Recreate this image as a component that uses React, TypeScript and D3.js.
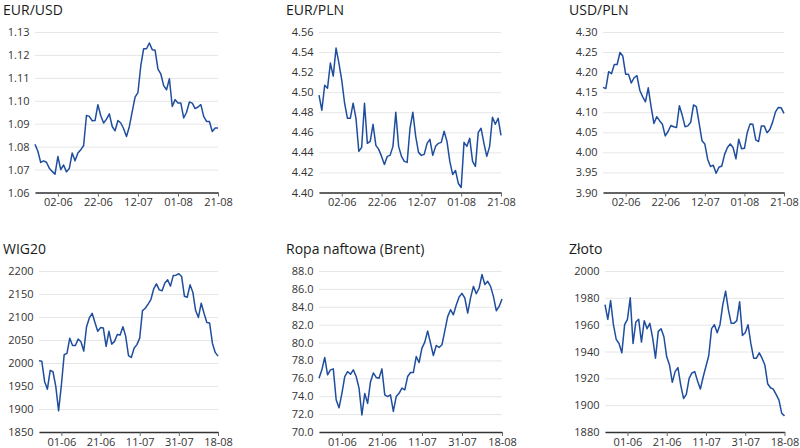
import React, { useRef, useEffect } from 'react'
import * as d3 from 'd3'

// business days shown in the upper and lower rows
const topStart = '2023-05-23'
const topEnd = '2023-08-21'
const bottomStart = '2023-05-22'
const bottomEnd = '2023-08-18'

const topTickLabels = ['02-06', '22-06', '12-07', '01-08', '21-08']
const bottomTickLabels = ['01-06', '21-06', '11-07', '31-07', '18-08']

const eurUsd = [1.081, 1.078, 1.0731, 1.0738, 1.0732, 1.0706, 1.0692, 1.068, 1.0757, 1.07,
  1.072, 1.069, 1.0705, 1.0772, 1.0738, 1.0772, 1.0786, 1.0805, 1.0936, 1.0932,
  1.0913, 1.0914, 1.0983, 1.0935, 1.0903, 1.092, 1.0943, 1.0888, 1.0869, 1.0914,
  1.0903, 1.0878, 1.0844, 1.0888, 1.0953, 1.1016, 1.1036, 1.1153, 1.1227, 1.1227,
  1.1252, 1.1223, 1.122, 1.1138, 1.1117, 1.1066, 1.1048, 1.1096, 1.0975, 1.1005,
  1.099, 1.099, 1.0925, 1.095, 1.0995, 1.099, 1.0966, 1.0973, 1.0983, 1.0932,
  1.091, 1.091, 1.0866, 1.0881, 1.0881]

const eurPln = [4.497, 4.482, 4.507, 4.504, 4.529, 4.516, 4.544, 4.529, 4.512, 4.489,
  4.474, 4.474, 4.489, 4.474, 4.441, 4.445, 4.489, 4.449, 4.451, 4.468,
  4.447, 4.443, 4.436, 4.428, 4.436, 4.437, 4.446, 4.48, 4.446, 4.436,
  4.431, 4.43, 4.464, 4.48, 4.456, 4.44, 4.437, 4.438, 4.449, 4.453,
  4.437, 4.446, 4.449, 4.45, 4.461, 4.451, 4.431, 4.418, 4.422, 4.409,
  4.405, 4.45, 4.446, 4.454, 4.431, 4.426, 4.46, 4.464, 4.449, 4.436,
  4.446, 4.475, 4.468, 4.474, 4.457]

const usdPln = [4.162, 4.159, 4.201, 4.196, 4.219, 4.219, 4.249, 4.24, 4.195, 4.195,
  4.173, 4.186, 4.191, 4.155, 4.139, 4.126, 4.161, 4.114, 4.072, 4.089,
  4.079, 4.07, 4.041, 4.052, 4.067, 4.064, 4.062, 4.116, 4.093, 4.064,
  4.066, 4.075, 4.118, 4.114, 4.072, 4.029, 4.021, 3.983, 3.965, 3.968,
  3.948, 3.963, 3.966, 3.995, 4.012, 4.021, 4.012, 3.984, 4.033, 4.009,
  4.01, 4.049, 4.071, 4.07, 4.031, 4.027, 4.066, 4.066, 4.049, 4.057,
  4.076, 4.101, 4.112, 4.111, 4.097]

const wig20 = [2005, 2004, 1960, 1943, 1984, 1981, 1949, 1896, 1952, 2018,
  2021, 2054, 2038, 2038, 2052, 2046, 2026, 2079, 2098, 2108,
  2088, 2069, 2077, 2076, 2036, 2069, 2041, 2047, 2062, 2061,
  2079, 2058, 2016, 2012, 2032, 2040, 2054, 2114, 2119, 2128,
  2138, 2161, 2172, 2159, 2157, 2174, 2181, 2167, 2190, 2191,
  2194, 2188, 2145, 2143, 2170, 2154, 2114, 2099, 2130, 2108,
  2088, 2087, 2043, 2023, 2015]

const brent = [76.0, 76.95, 78.33, 76.4, 76.95, 77.06, 73.6, 72.7, 74.3, 76.2,
  76.76, 76.46, 76.95, 76.2, 74.9, 71.9, 74.3, 73.2, 75.6, 76.6,
  76.1, 76.0, 77.06, 74.15, 73.96, 74.15, 72.3, 73.96, 74.33, 74.9,
  74.7, 76.2, 76.65, 76.65, 78.44, 77.77, 79.37, 80.05, 81.3, 79.93,
  78.55, 79.67, 79.45, 79.75, 81.3, 82.9, 83.67, 83.1, 84.2, 85.1,
  85.5, 84.98, 83.3, 85.0, 86.28, 85.46, 86.1, 87.6, 86.5, 86.84,
  86.28, 85.16, 83.56, 84.04, 84.86]

const zloto = [1975, 1964, 1978, 1960, 1949, 1946, 1939, 1960, 1964, 1980,
  1946, 1962, 1964, 1947, 1963, 1957, 1961, 1950, 1935, 1955,
  1957, 1951, 1936, 1930, 1917, 1925, 1928, 1915, 1905, 1908,
  1920, 1924, 1925, 1918, 1912, 1921, 1929, 1937, 1957, 1960,
  1954, 1960, 1975, 1985, 1971, 1961, 1961, 1963, 1977, 1952,
  1954, 1960, 1946, 1935, 1935, 1939, 1935, 1930, 1916, 1913,
  1912, 1908, 1904, 1894, 1892]

const businessDays = (from, to) =>
  d3.timeDay
    .range(new Date(from + 'T00:00'), d3.timeDay.offset(new Date(to + 'T00:00'), 1))
    .filter(d => d.getDay() !== 0 && d.getDay() !== 6)

const fmtDay = d3.timeFormat('%d-%m')

const panels = [
  { title: 'EUR/USD', values: eurUsd, row: 0, left: 35, right: 218, domain: [1.06, 1.13], step: 0.01, fmt: '.2f', ticks: topTickLabels },
  { title: 'EUR/PLN', values: eurPln, row: 0, left: 319, right: 501, domain: [4.40, 4.56], step: 0.02, fmt: '.2f', ticks: topTickLabels },
  { title: 'USD/PLN', values: usdPln, row: 0, left: 603, right: 784, domain: [3.90, 4.30], step: 0.05, fmt: '.2f', ticks: topTickLabels },
  { title: 'WIG20', values: wig20, row: 1, left: 39, right: 218, domain: [1850, 2200], step: 50, fmt: 'd', ticks: bottomTickLabels },
  { title: 'Ropa naftowa (Brent)', values: brent, row: 1, left: 319, right: 502, domain: [70, 88], step: 2, fmt: '.1f', ticks: bottomTickLabels },
  { title: 'Złoto', values: zloto, row: 1, left: 605, right: 784.5, domain: [1880, 2000], step: 20, fmt: 'd', ticks: bottomTickLabels },
]

const rows = [
  { top: 32, bottom: 192.5, titleY: 14.5, dates: businessDays(topStart, topEnd) },
  { top: 271, bottom: 432, titleY: 253.5, dates: businessDays(bottomStart, bottomEnd) },
]

const titleX = [3, 286, 569]
const font = '"Open Sans", "Noto Sans", sans-serif'

const App = () => {
  const ref = useRef(null)

  useEffect(() => {
    const svg = d3.select(ref.current)
    svg.selectAll('*').remove()

    panels.forEach((p, i) => {
      const r = rows[p.row]
      const dates = r.dates
      const x = d3.scaleLinear().domain([0, p.values.length - 1]).range([p.left, p.right])
      const y = d3.scaleLinear().domain(p.domain).range([r.bottom, r.top])
      const g = svg.append('g')

      g.append('text')
        .attr('x', titleX[i % 3])
        .attr('y', r.titleY)
        .attr('font-size', 14)
        .attr('font-weight', 500)
        .attr('fill', '#1a1a1a')
        .text(p.title)

      const yTicks = d3.range(p.domain[0], p.domain[1] + p.step / 2, p.step)
      const yAxis = d3.axisLeft(y)
        .tickValues(yTicks)
        .tickSize(-(p.right - p.left))
        .tickPadding(5.5)
        .tickFormat(d3.format(p.fmt))
      const ya = g.append('g').attr('transform', `translate(${p.left},0)`).call(yAxis)
      ya.select('.domain').remove()
      ya.selectAll('line').attr('stroke', '#e6e6e6')
      ya.selectAll('text').attr('font-size', 11).attr('font-family', font).attr('fill', '#333')

      const tickIdx = p.ticks.map(lbl => dates.findIndex(d => fmtDay(d) === lbl))
      const xAxis = d3.axisBottom(x)
        .tickValues(tickIdx)
        .tickSize(4)
        .tickSizeOuter(0)
        .tickPadding(2)
        .tickFormat(k => fmtDay(dates[k]))
      const xa = g.append('g').attr('transform', `translate(0,${r.bottom})`).call(xAxis)
      xa.select('.domain').attr('stroke', '#333').attr('stroke-width', 1.5)
      xa.selectAll('line').attr('stroke', '#666')
      xa.selectAll('text').attr('font-size', 11).attr('font-family', font).attr('fill', '#333')

      const line = d3.line().x((_, k) => x(k)).y(v => y(v))
      g.append('path')
        .datum(p.values)
        .attr('d', line)
        .attr('fill', 'none')
        .attr('stroke', '#1f4e9e')
        .attr('stroke-width', 1.5)
        .attr('stroke-linejoin', 'round')
    })
  }, [])

  return (
    <svg ref={ref} width={800} height={448}
      style={{ position: 'absolute', left: 0, top: 0, background: '#fff', fontFamily: font }} />
  )
}

export default App
